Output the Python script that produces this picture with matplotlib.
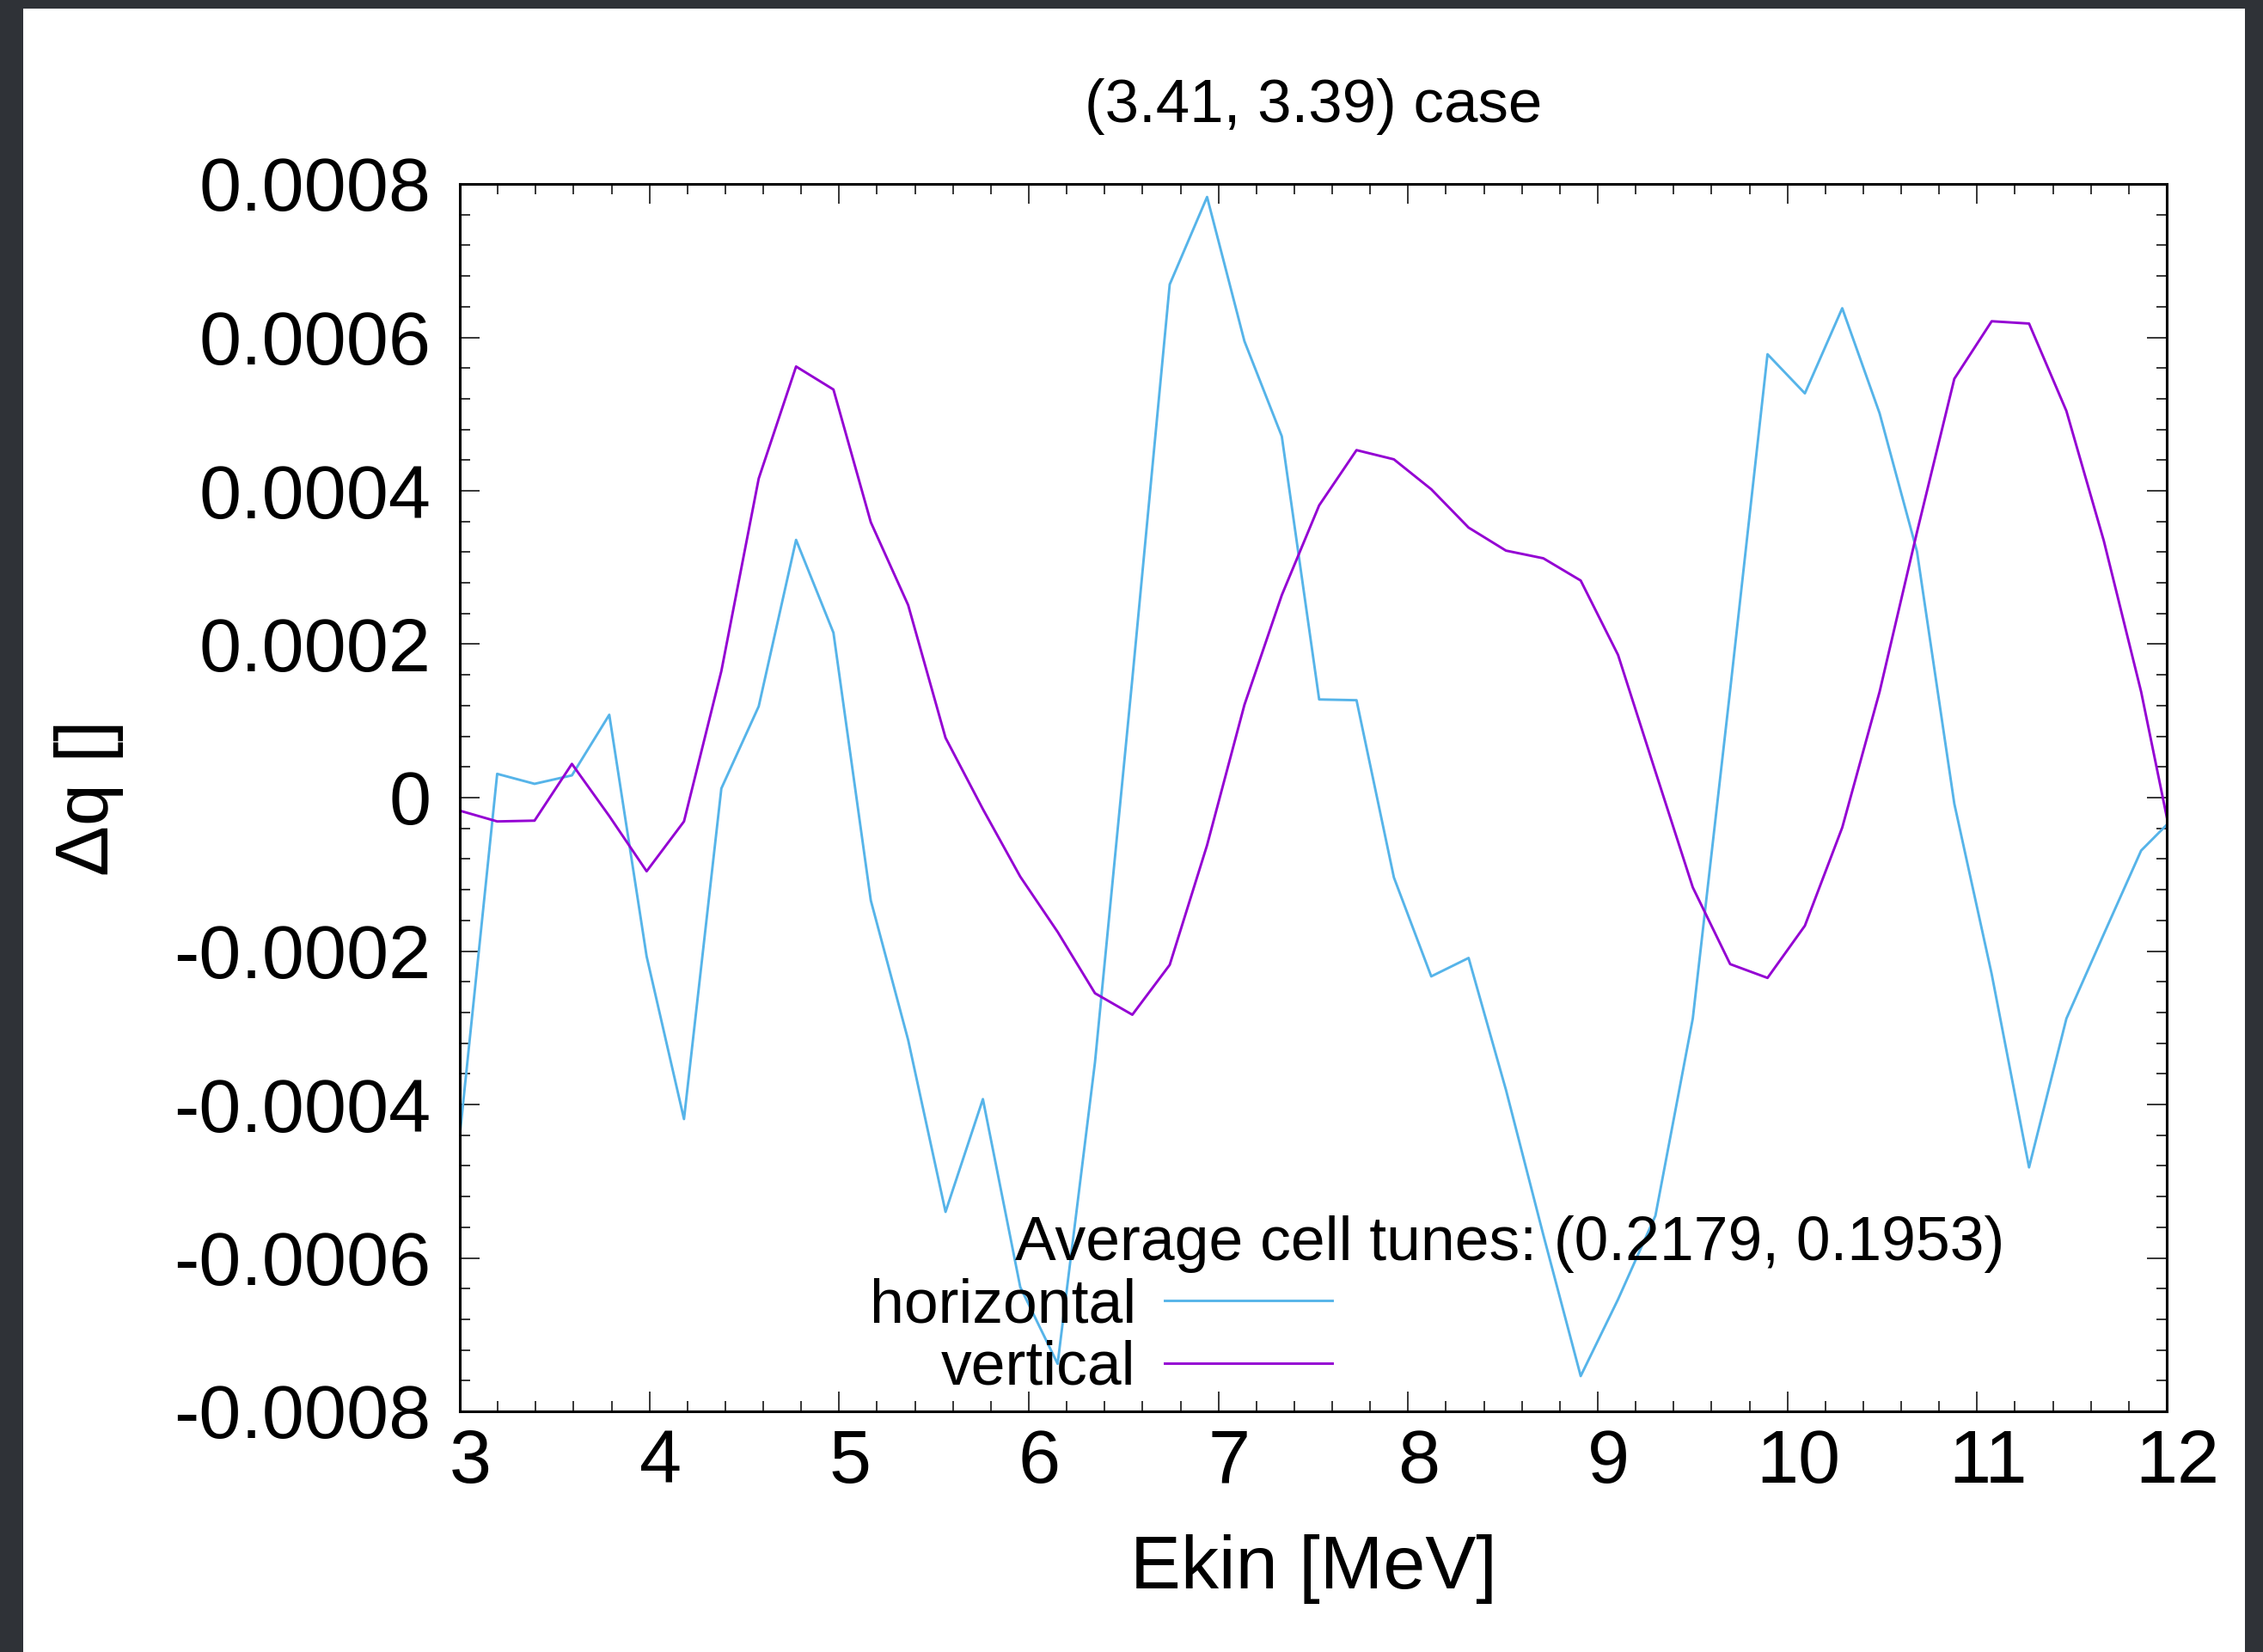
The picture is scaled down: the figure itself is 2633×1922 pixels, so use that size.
import matplotlib
matplotlib.use("Agg")
import matplotlib.pyplot as plt
import matplotlib.transforms as mtransforms
import numpy as np
from matplotlib.patches import Rectangle
from matplotlib.ticker import MultipleLocator

plt.rcParams['font.family'] = ['Liberation Sans', 'DejaVu Sans']

# kinetic energy [MeV]
ekin = [3.000, 3.197, 3.394, 3.591, 3.788, 3.985, 4.182, 4.379, 4.576, 4.773,
        4.970, 5.167, 5.364, 5.561, 5.758, 5.955, 6.152, 6.349, 6.546, 6.743,
        6.940, 7.137, 7.334, 7.531, 7.728, 7.925, 8.122, 8.319, 8.516, 8.713,
        8.910, 9.107, 9.304, 9.501, 9.698, 9.895, 10.092, 10.289, 10.486, 10.683,
        10.880, 11.077, 11.274, 11.471, 11.668, 11.865, 12.062]

# tune deviation, in units of 1e-4
dq_horizontal = [-4.40, 0.31, 0.18, 0.29, 1.08, -2.07, -4.19, 0.12, 1.19, 3.36,
                 2.15, -1.34, -3.16, -5.40, -3.93, -6.38, -7.38, -3.45, 1.55, 6.69,
                 7.83, 5.95, 4.71, 1.28, 1.27, -1.04, -2.33, -2.09, -3.81, -5.70,
                 -7.54, -6.54, -5.45, -2.88, 1.40, 5.78, 5.27, 6.38, 5.01, 3.21,
                 -0.08, -2.30, -4.82, -2.88, -1.78, -0.69, -0.20]
dq_vertical = [-0.17, -0.31, -0.30, 0.44, -0.24, -0.96, -0.31, 1.65, 4.16, 5.62,
               5.32, 3.59, 2.51, 0.78, -0.15, -1.03, -1.75, -2.55, -2.83, -2.18,
               -0.62, 1.21, 2.64, 3.81, 4.53, 4.41, 4.02, 3.52, 3.22, 3.12,
               2.83, 1.86, 0.34, -1.17, -2.17, -2.35, -1.67, -0.39, 1.38, 3.46,
               5.46, 6.21, 6.18, 5.04, 3.35, 1.38, -1.00]

tune_h = 0.2179
tune_v = 0.1953

W, H = 2633, 1922
fig = plt.figure(figsize=(W / 100, H / 100), dpi=100, facecolor='#2f3237')
# white page inside the dark frame
fig.patches.append(Rectangle((27 / W, 0), (2612 - 27) / W, (H - 10) / H,
                             transform=fig.transFigure, facecolor='white',
                             edgecolor='none', zorder=-10))

ax = fig.add_axes([535 / W, (H - 1642) / H, (2521 - 535) / W, (1642 - 214) / H])

ax.plot(ekin, np.array(dq_horizontal) * 1e-4, color='#56B4E9', lw=2.1, label='horizontal')
ax.plot(ekin, np.array(dq_vertical) * 1e-4, color='#9400D3', lw=2.1, label='vertical')

ax.set_xlim(3, 12)
ax.set_ylim(-0.0008, 0.0008)
ax.xaxis.set_major_locator(MultipleLocator(1))
ax.xaxis.set_minor_locator(MultipleLocator(0.2))
ax.yaxis.set_minor_locator(MultipleLocator(0.00004))
ax.set_yticks(np.arange(-0.0008, 0.00081, 0.0002))
ax.set_yticklabels(['-0.0008', '-0.0006', '-0.0004', '-0.0002', '0',
                    '0.0002', '0.0004', '0.0006', '0.0008'])

ax.tick_params(which='both', direction='in', top=True, right=True, width=1.1)
ax.tick_params(which='major', length=16.5)
ax.tick_params(which='minor', length=8.4)
ax.tick_params(axis='y', labelsize=63.5, pad=24)
ax.tick_params(axis='x', labelsize=63.5, pad=14.5)
for s in ax.spines.values():
    s.set_linewidth(2.2)

# x tick labels sit a little right of their ticks in the original
shift = mtransforms.ScaledTranslation(9 / 72, 0, fig.dpi_scale_trans)
for lbl in ax.get_xticklabels():
    lbl.set_transform(lbl.get_transform() + shift)

ax.set_title('(3.41, 3.39) case', fontsize=51, pad=52)
ax.set_xlabel('Ekin [MeV]', fontsize=63.5)
ax.xaxis.set_label_coords(0.5, -0.100)
ax.set_ylabel('Δq []', fontsize=63.5)
ax.yaxis.set_label_coords(-0.197, 0.5)

ax.text(0.3253, 0.1232, 'Average cell tunes: (%.4f, %.4f)' % (tune_h, tune_v),
        transform=ax.transAxes, fontsize=51.5, va='baseline', ha='left')
ax.legend(loc='upper right', bbox_to_anchor=(0.511, 0.1092), frameon=False,
          markerfirst=False, fontsize=51.5, handlelength=2.73, handletextpad=0.46,
          labelspacing=0.08, borderpad=0, borderaxespad=0)

fig.savefig('out.png', dpi=100, facecolor=fig.get_facecolor())
